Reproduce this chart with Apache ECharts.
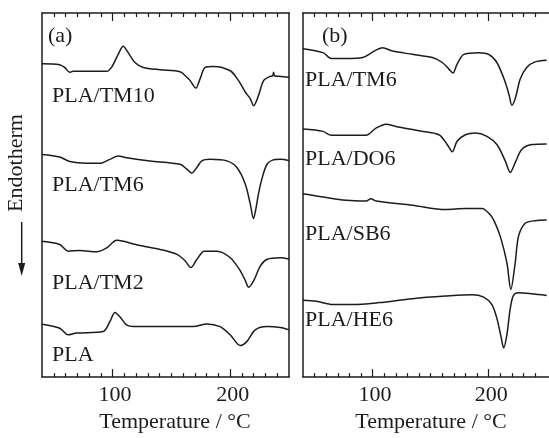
<!DOCTYPE html>
<html>
<head>
<meta charset="utf-8">
<script src="https://cdn.jsdelivr.net/npm/echarts@6/dist/echarts.min.js"></script>
<style>
html,body{margin:0;padding:0;background:#fff;}
#chart{width:549px;height:438px;}
</style>
</head>
<body>
<div id="chart"></div>
<script>
// ---- data (temperature °C, heat flow arbitrary units; endotherm down) ----
const majorTicks = [100, 200];
const minorTicks = [50, 60, 70, 80, 90, 110, 120, 130, 140, 150, 160, 170, 180, 190, 210, 220, 230, 240];
const xName = 'Temperature / °C';

const seriesNamesA = ['PLA/TM10', 'PLA/TM6', 'PLA/TM2', 'PLA'];
const seriesNamesB = ['PLA/TM6', 'PLA/DO6', 'PLA/SB6', 'PLA/HE6'];

const a_tm10 = [[40,318.5],[55,317.5],[59.3,314.7],[63.6,309.7],[66.4,310.7],[94.9,310.7],[99.1,314.7],[104.8,328],[109,336.3],[113.3,329.7],[119,319.7],[126.1,314.7],[140.3,312.3],[157.4,310.3],[163,305],[166,301.3],[170.8,293.7],[174.4,303],[178.7,314.7],[185.8,315.7],[200,311.3],[207.1,301.3],[212.8,289.7],[217,283],[219.9,275.7],[224.1,286.3],[228.4,301.3],[234.1,305.7],[236.1,306],[236.9,309.7],[237.9,306],[241.2,305.7],[250,304.7]];
const a_tm6 = [[40,226.3],[55.1,223.7],[63.6,219],[77.8,217.3],[89.2,217.3],[97.7,221.3],[104.8,224.7],[111.9,223],[131.8,219.7],[157.4,216.3],[163.1,211.3],[167.3,207.3],[171.6,213],[175.9,219.7],[183,221.3],[197.2,219.7],[205.7,213],[212.8,196.3],[217,176.3],[219.8,161],[222,172],[224,186],[227.3,203],[231.3,216.3],[236,220.5],[242.7,221.3],[250,220]];
const a_tm2 = [[40,138],[55.1,134.7],[62.2,128],[72.2,128.7],[86.5,127.3],[95,131.3],[103.5,139],[109.2,138],[123.4,133.7],[140.5,129.7],[154.7,124.7],[161.8,118],[166.6,111.3],[171.7,119.7],[178,128],[188.8,128],[200.1,121.3],[208.6,108],[212.9,98],[215.7,91.3],[220,98],[225.7,113],[231.4,119.7],[242.7,121.3],[250,120]];
const a_pla = [[40,53.7],[55.1,49.7],[62.2,43],[69.3,44.7],[92,46.3],[97.7,56.3],[102,65.7],[106.2,61.3],[111.9,53],[117.6,51.3],[146,51.3],[168.7,51.3],[180.1,54],[191.4,51.3],[200,43],[208.6,32],[214.3,36.3],[221.3,48],[231.4,51.3],[242.7,50.3],[250,48]];

const b_tm6 = [[40,333.7],[57.2,329.7],[64.4,323.7],[77.2,323.7],[91.4,324.7],[100,330.3],[108.6,334.7],[117.1,331.3],[134.3,328],[151.4,324.7],[160,319.7],[165.7,313],[169.2,309],[172.8,318],[178.6,328],[191.4,329.7],[200,328],[207.1,319.7],[214.3,299.7],[217.7,286.3],[220,276.3],[222.9,283],[227.2,303],[232.8,314.7],[240,320.3],[250,322]];
const b_do6 = [[40,252],[57.2,249.7],[64.4,245.7],[77.2,245.7],[94.3,245.7],[102.9,253],[111.5,257],[120.1,254.7],[140,250.3],[157.2,246.3],[164.3,236.3],[168.6,229],[172.8,239.7],[180,246.3],[188.6,248],[198.5,244.7],[207.1,236.3],[214.3,219.7],[218.6,208],[222.9,218],[228.5,231.3],[237.1,236.3],[250,237]];
const b_sb6 = [[40,186.3],[57.2,183],[77.2,179.7],[94.3,179],[98.6,181.3],[102.9,179],[134.3,174.7],[162.9,170.3],[180,171.3],[194.3,171.3],[201.5,164.7],[205,158],[210,143],[215.7,116.3],[219.1,89],[222.9,116.3],[225.7,143],[231.5,156.3],[240,159],[250,159.7]];
const b_he6 = [[40,78],[51.5,77],[65.7,73.7],[82.9,73.7],[105.7,75.7],[134.3,79.7],[162.9,82.3],[185.7,83.7],[195.7,81.3],[202.8,73.7],[207.1,59.7],[210.9,39.7],[212.9,29.7],[215.7,43],[218.6,69.7],[221.4,83],[225.7,85.7],[237.1,84.7],[250,83]];

// ---- chart ----
const INK = '#1c1c1c';
const FONT = '"Liberation Serif", "Times New Roman", serif';
const chart = echarts.init(document.getElementById('chart'), null, {renderer: 'canvas'});

function minorAxis(grid, pos, max) {
  return {
    type: 'value', gridIndex: grid, position: pos, min: 40, max: max, offset: 0,
    axisLine: {show: true, lineStyle: {color: INK, width: 1.5}},
    axisTick: {show: true, inside: true, length: 4, customValues: minorTicks, lineStyle: {color: INK, width: 1.2}},
    axisLabel: {show: false}, splitLine: {show: false}
  };
}
function majorAxis(grid, pos, max, withLabels, namePad) {
  const ax = {
    type: 'value', gridIndex: grid, position: pos, min: 40, max: max, offset: 0,
    axisLine: {show: false},
    axisTick: {show: true, inside: true, length: 8, customValues: majorTicks, lineStyle: {color: INK, width: 1.2}},
    axisLabel: {show: withLabels, customValues: majorTicks, margin: 7, color: INK, fontFamily: FONT, fontSize: 22, padding: [0, 0, 0, 5]},
    splitLine: {show: false}
  };
  if (withLabels) {
    ax.name = xName; ax.nameLocation = 'middle'; ax.nameGap = 26;
    ax.nameTextStyle = {color: INK, fontFamily: FONT, fontSize: 22, padding: [0, 0, 0, namePad]};
  }
  return ax;
}
function yAx(grid, pos) {
  return {
    type: 'value', gridIndex: grid, position: pos, min: 0, max: 370, offset: 0,
    axisLine: {show: true, lineStyle: {color: INK, width: 1.5}},
    axisTick: {show: false}, axisLabel: {show: false}, splitLine: {show: false}
  };
}
function line(data, xi, yi) {
  return {type: 'line', data: data, xAxisIndex: xi, yAxisIndex: yi, showSymbol: false, symbol: 'none',
    smooth: 0.3, lineStyle: {color: INK, width: 1.5}, silent: true, animation: false};
}
function txt(x, y, s, extra) {
  return Object.assign({type: 'text', x: x, y: y, style: {text: s, fill: INK, font: '22px ' + FONT, textAlign: 'left', textVerticalAlign: 'middle'}}, extra || {});
}

const option = {
  backgroundColor: '#fff',
  animation: false,
  grid: [
    {left: 42, top: 13, width: 247, height: 370},
    {left: 303, top: 13, width: 247.4, height: 370}
  ],
  xAxis: [
    minorAxis(0, 'bottom', 250), majorAxis(0, 'bottom', 250, true, 19),
    minorAxis(0, 'top', 250), majorAxis(0, 'top', 250, false, 0),
    minorAxis(1, 'bottom', 252), majorAxis(1, 'bottom', 252, true, 10),
    minorAxis(1, 'top', 252), majorAxis(1, 'top', 252, false, 0)
  ],
  yAxis: [yAx(0, 'left'), yAx(0, 'right'), yAx(1, 'left')],
  series: [
    line(a_tm10, 0, 0), line(a_tm6, 0, 0), line(a_tm2, 0, 0), line(a_pla, 0, 0),
    line(b_tm6, 4, 2), line(b_do6, 4, 2), line(b_sb6, 4, 2), line(b_he6, 4, 2)
  ],
  graphic: [
    txt(48, 36, '(a)'),
    txt(52, 96, seriesNamesA[0]),
    txt(52, 185.5, seriesNamesA[1]),
    txt(52, 283, seriesNamesA[2]),
    txt(52, 355.5, seriesNamesA[3]),
    txt(322, 36, '(b)'),
    txt(305, 80, seriesNamesB[0]),
    txt(305, 159.5, seriesNamesB[1]),
    txt(305, 234.5, seriesNamesB[2]),
    txt(305, 320.5, seriesNamesB[3]),
    {type: 'text', x: 16.5, y: 163, rotation: Math.PI / 2,
      style: {text: 'Endotherm', fill: INK, font: '22px ' + FONT, textAlign: 'center', textVerticalAlign: 'middle'}},
    {type: 'line', shape: {x1: 21.7, y1: 222, x2: 21.7, y2: 265}, style: {stroke: INK, lineWidth: 1.5}},
    {type: 'polygon', shape: {points: [[18.2, 263], [25.2, 263], [21.7, 276]]}, style: {fill: INK}}
  ]
};
chart.setOption(option);
</script>
</body>
</html>
